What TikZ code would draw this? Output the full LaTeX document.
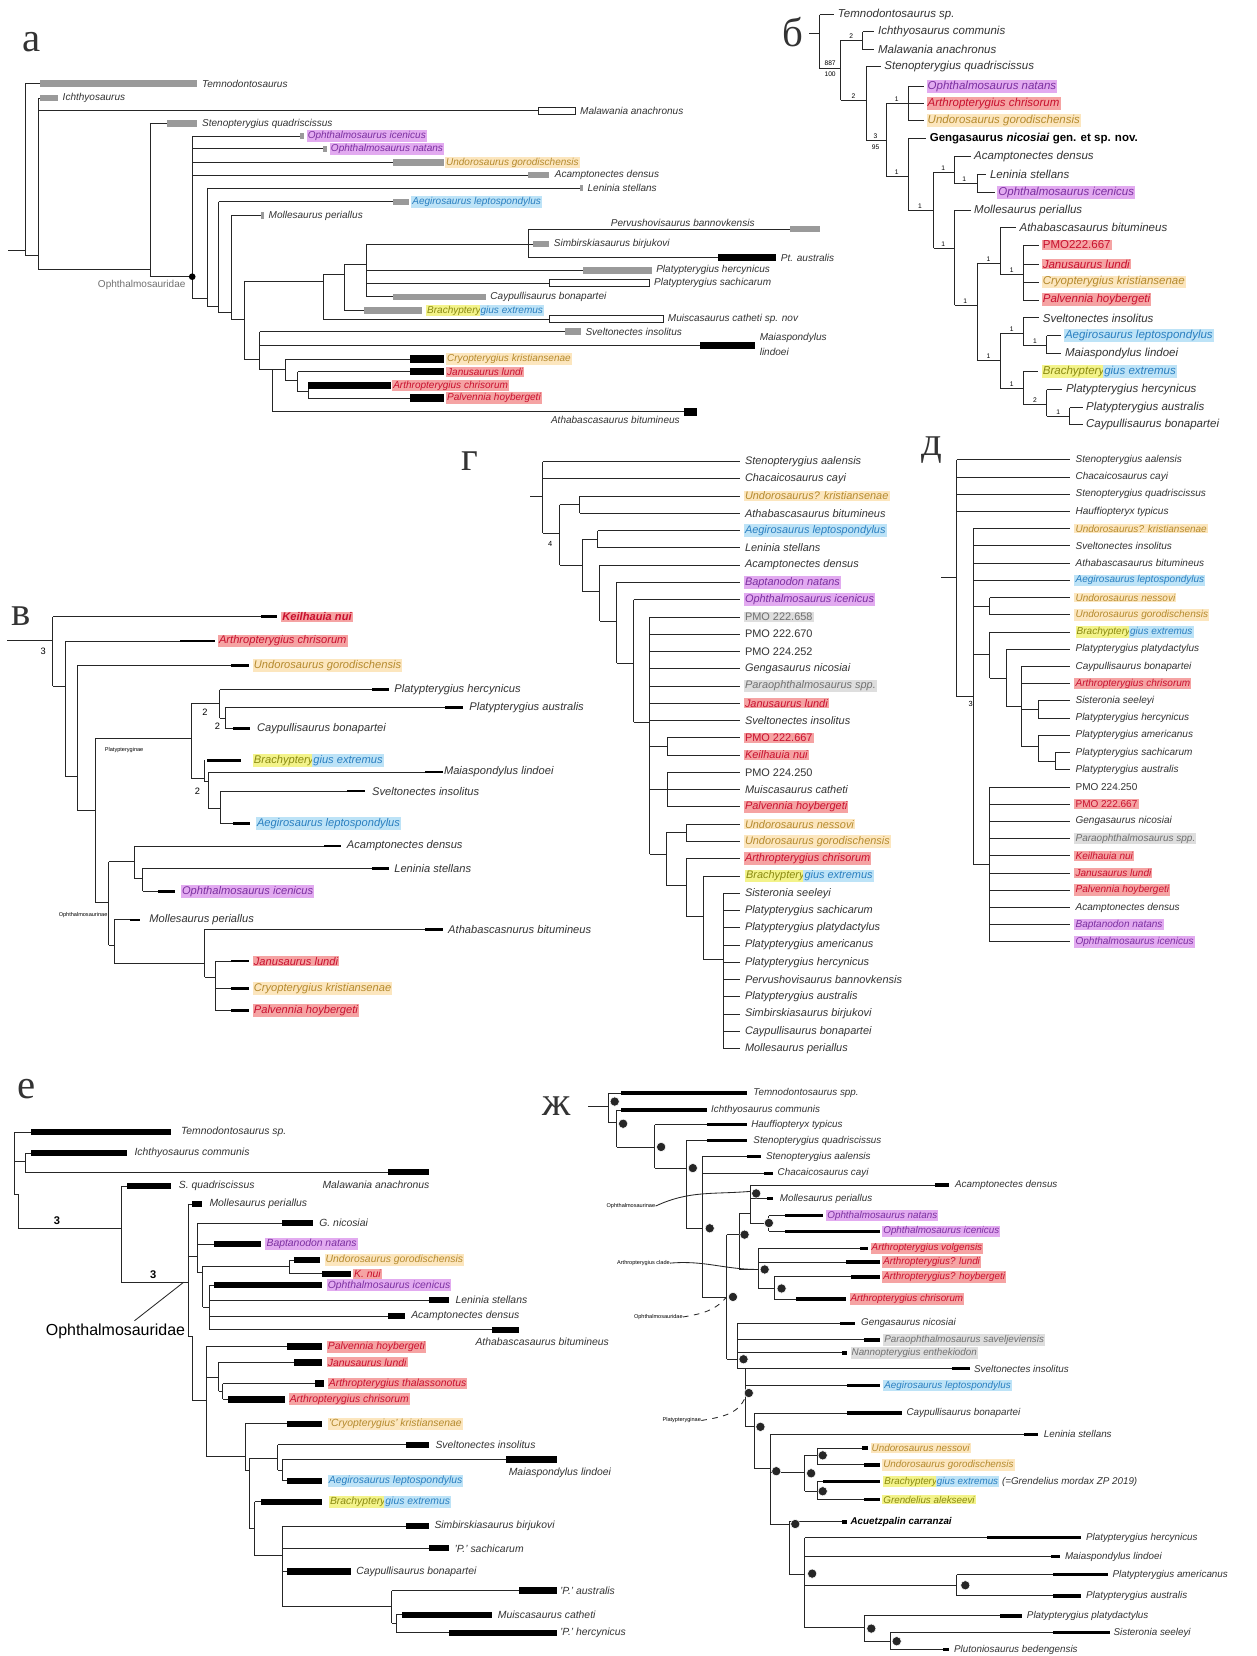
\documentclass[tikz,border=0pt]{standalone}
\usepackage{fontspec}
\setmainfont{Liberation Sans}
\newfontfamily\lettfont{Liberation Serif}
\usepackage{xcolor}

\definecolor{purbg}{HTML}{E2AAF0}
\definecolor{purtx}{HTML}{7B2FA0}
\definecolor{redbg}{HTML}{F5A3A3}
\definecolor{redtx}{HTML}{C8102E}
\definecolor{orabg}{HTML}{FCE6BE}
\definecolor{oratx}{HTML}{B58A2E}
\definecolor{blubg}{HTML}{BDE3F7}
\definecolor{blutx}{HTML}{2A7FC0}
\definecolor{yelbg}{HTML}{F3F38A}
\definecolor{yeltx}{HTML}{8A8A10}
\definecolor{grybg}{HTML}{DEDEDE}
\definecolor{grytx}{HTML}{707070}
\definecolor{barg}{HTML}{9A9A9A}
\definecolor{ink}{HTML}{333333}

% branch helpers: \hb{y}{x0}{x1}, \vb{x}{y0}{y1}
\newcommand{\hb}[3]{\draw[br] (#2,#1) -- (#3,#1);}
\newcommand{\vb}[3]{\draw[br] (#1,#2) -- (#1,#3);}
\newcommand{\gbar}[3]{\fill[barg] (#1,{#3-3}) rectangle (#2,{#3+3});}
\newcommand{\kbar}[4]{\fill[black] (#1,{#3-#4}) rectangle (#2,{#3+#4});}
\newcommand{\wbox}[3]{\draw[br,fill=white] (#1,{#3-3.5}) rectangle (#2,{#3+3.5});}
\newcommand{\brachy}{{\setlength{\fboxsep}{0.6pt}\colorbox{yelbg}{\color{yeltx}Brachyptery}\hspace{-1.2pt}\colorbox{blubg}{\color{blutx}gius extremus}}}

\tikzset{
  br/.style={line width=0.45pt, draw=black!85},
  lab/.style={anchor=west, inner sep=0.6pt},
  plain/.style={},
  up/.style={execute at begin node=\upshape},
  bold/.style={execute at begin node=\bfseries},
  hlP/.style={fill=purbg, text=purtx},
  hlR/.style={fill=redbg, text=redtx},
  hlO/.style={fill=orabg, text=oratx},
  hlB/.style={fill=blubg, text=blutx},
  hlY/.style={fill=yelbg, text=yeltx},
  hlG/.style={fill=grybg, text=grytx},
  hlRup/.style={hlR, up},
  hlGup/.style={hlG, up},
  letter/.style={font=\lettfont\fontsize{22}{22}\selectfont, inner sep=0pt},
  sup/.style={font=\fontsize{3.6}{4}\selectfont\upshape, inner sep=0pt, text=black},
  clade/.style={font=\fontsize{3}{3.5}\selectfont\upshape, inner sep=0pt, text=black},
  knot/.style={fill=black!85, draw=white, line width=0.3pt}
}

\begin{document}
\begin{tikzpicture}[x=0.02cm, y=-0.02cm]
\useasboundingbox[fill=white] (0,0) rectangle (1190,1568);

% ---------------- panel a
\begin{scope}[every node/.append style={font=\fontsize{5.4}{6}\selectfont\itshape, text=ink}]
\node[letter] (a-let) at (30,40) {а};
\hb{237}{8}{24} \vb{24}{79}{242} \hb{79}{24}{38} \hb{242}{24}{36} \gbar{38}{187}{79}
\vb{36}{93}{255} \hb{93}{36}{38} \gbar{38}{55}{93} \hb{105}{36}{510} \wbox{510}{545}{105} \hb{255}{36}{142}
\vb{142}{117}{262} \hb{117}{142}{158} \gbar{158}{187}{117} \hb{262}{142}{182}
\vb{182}{129}{283} \hb{129}{182}{284} \gbar{284}{288}{129} \hb{141}{182}{306} \gbar{306}{310}{141}
\hb{154}{182}{372} \gbar{372}{420}{154} \hb{166}{182}{500} \gbar{500}{520}{166} \hb{283}{182}{196}
\vb{196}{178}{290} \hb{178}{196}{549} \gbar{549}{552}{178} \hb{290}{196}{207}
\vb{207}{191}{296} \hb{191}{207}{372} \gbar{372}{387}{191} \hb{296}{207}{219}
\vb{219}{204}{302} \hb{204}{219}{247} \gbar{247}{250}{204} \hb{302}{219}{231}
\vb{231}{266}{340} \hb{266}{231}{306} \hb{340}{231}{246}
\vb{306}{260}{302} \hb{302}{306}{520} \wbox{520}{628}{302} \hb{260}{306}{326}
\vb{326}{250}{294} \hb{294}{326}{345} \gbar{345}{400}{294} \hb{250}{326}{347}
\vb{347}{231}{281} \hb{231}{347}{505} \gbar{505}{520}{231} \hb{256}{347}{552} \gbar{552}{617}{256}
\hb{268}{347}{520} \wbox{520}{615}{268} \hb{281}{347}{372} \gbar{372}{460}{281}
\vb{500}{217}{244} \hb{217}{500}{748} \gbar{748}{776}{217} \hb{244}{500}{680} \kbar{680}{735}{244}{3.5}
\vb{246}{314}{350} \hb{314}{246}{535} \gbar{535}{550}{314} \hb{327}{246}{663} \kbar{663}{715}{327}{3.5} \hb{350}{246}{270}
\vb{258}{350}{390} \hb{390}{258}{648} \kbar{648}{660}{390}{3.5}
\vb{270}{340}{360} \hb{340}{270}{388} \kbar{388}{420}{340}{3.5} \hb{360}{270}{282}
\vb{282}{352}{371} \hb{352}{282}{388} \kbar{388}{420}{352}{3.5} \hb{371}{282}{292}
\vb{292}{365}{377} \kbar{292}{370}{365}{3.5} \hb{377}{292}{388} \kbar{388}{420}{377}{3.5}
\fill (182,262) circle (1.8pt);
\node[lab, up, text=grytx, anchor=east] (a-ophth) at (177,270) {Ophthalmosauridae};
\node[lab] (a-temno) at (190,79) {Temnodontosaurus};
\node[lab] (a-ichth) at (58,93) {Ichthyosaurus};
\node[lab] (a-malaw) at (548,105) {Malawania anachronus};
\node[lab] (a-steno) at (190,117) {Stenopterygius quadriscissus};
\node[lab,hlP] (a-oicen) at (290,129) {Ophthalmosaurus icenicus};
\node[lab,hlP] (a-onat) at (312,141) {Ophthalmosaurus natans};
\node[lab,hlO] (a-undor) at (421,154) {Undorosaurus gorodischensis};
\node[lab] (a-acamp) at (524,166) {Acamptonectes densus};
\node[lab] (a-lenin) at (555,178) {Leninia stellans};
\node[lab,hlB] (a-aegir) at (389,191) {Aegirosaurus leptospondylus};
\node[lab] (a-molle) at (253,204) {Mollesaurus periallus};
\node[lab] (a-pervu) at (577,211) {Pervushovisaurus bannovkensis};
\node[lab] (a-simbi) at (523,231) {Simbirskiasaurus birjukovi};
\node[lab] (a-ptaus) at (738,244) {Pt. australis};
\node[lab] (a-plher) at (620,256) {Platypterygius hercynicus};
\node[lab] (a-plsac) at (618,268) {Platypterygius sachicarum};
\node[lab] (a-caypu) at (463,281) {Caypullisaurus bonapartei};
\node[lab] (a-brach) at (402,294) {\brachy};
\node[lab] (a-muisc) at (631,302) {Muiscasaurus catheti sp. nov};
\node[lab] (a-svelt) at (553,314) {Sveltonectes insolitus};
\node[lab] (a-maia1) at (718,320) {Maiaspondylus};
\node[lab] (a-maia2) at (718,333) {lindoei};
\node[lab,hlO] (a-cryop) at (422,340) {Cryopterygius kristiansenae};
\node[lab,hlR] (a-janus) at (422,352) {Janusaurus lundi};
\node[lab,hlR] (a-arthr) at (371,365) {Arthropterygius chrisorum};
\node[lab,hlR] (a-palve) at (422,377) {Palvennia hoybergeti};
\node[lab, anchor=east] (a-athab) at (645,398) {Athabascasaurus bitumineus};
\end{scope}

% ---------------- panel b
\begin{scope}[every node/.append style={font=\fontsize{6.2}{7}\selectfont\itshape, text=ink}]
\node[letter] (b-let) at (751,30) {б};
\hb{32}{766}{776} \vb{776}{14}{65} \hb{14}{776}{790} \hb{65}{776}{796}
\vb{796}{38}{95} \hb{38}{796}{817} \hb{95}{796}{820}
\vb{817}{30}{47} \hb{30}{817}{828} \hb{47}{817}{828}
\vb{820}{63}{133} \hb{63}{820}{834} \hb{133}{820}{839}
\vb{839}{98}{167} \hb{98}{839}{860} \hb{167}{839}{860}
\vb{860}{82}{114} \hb{82}{860}{875} \hb{98}{860}{875} \hb{114}{860}{875}
\vb{860}{131}{199} \hb{131}{860}{877} \hb{199}{860}{884}
\vb{884}{163}{235} \hb{163}{884}{904} \hb{235}{884}{904}
\vb{904}{148}{174} \hb{148}{904}{919} \hb{174}{904}{925}
\vb{925}{165}{182} \hb{165}{925}{934} \hb{182}{925}{942}
\vb{904}{199}{289} \hb{199}{904}{919} \hb{289}{904}{925}
\vb{925}{249}{341} \hb{249}{925}{947} \hb{341}{925}{947}
\vb{947}{215}{260} \hb{215}{947}{962} \hb{260}{947}{969}
\vb{969}{232}{284} \foreach \yy in {232,250,267,284} {\hb{\yy}{969}{984}}
\vb{947}{316}{368} \hb{316}{947}{969} \hb{368}{947}{969}
\vb{969}{301}{327} \hb{301}{969}{984} \hb{327}{969}{991}
\vb{991}{318}{335} \hb{318}{991}{1005} \hb{335}{991}{1005}
\vb{969}{352}{383} \hb{352}{969}{983} \hb{383}{969}{991}
\vb{991}{369}{394} \hb{369}{991}{1006} \hb{394}{991}{1013}
\vb{1013}{386}{402} \hb{386}{1013}{1025} \hb{402}{1013}{1025}
\node[sup] (b-s1) at (786,60) {887};
\node[sup] (b-s2) at (786,70) {100};
\foreach \xx/\yy/\tt [count=\k] in {806/34/2, 808/91/2, 829/129/3, 829/139/95, 849/94/1, 849/163/1,
  871/195/1, 893/159/1, 893/231/1, 913/170/1, 914/285/1, 936/245/1, 936/337/1, 958/256/1,
  958/312/1, 958/364/1, 980/323/1, 980/379/2, 1002/390/1}
  {\node[sup] (b-n\k) at (\xx,\yy) {\tt};}
\node[lab] (b-temno) at (792,14) {Temnodontosaurus sp.};
\node[lab] (b-ichth) at (830,30) {Ichthyosaurus communis};
\node[lab] (b-malaw) at (830,47) {Malawania anachronus};
\node[lab] (b-steno) at (836,63) {Stenopterygius quadriscissus};
\node[lab,hlP] (b-onat) at (877,82) {Ophthalmosaurus natans};
\node[lab,hlR] (b-arthr) at (877,98) {Arthropterygius chrisorum};
\node[lab,hlO] (b-undor) at (877,114) {Undorosaurus gorodischensis};
\node[lab,up,bold,text=black] (b-genga) at (879,131) {Gengasaurus \textit{nicosiai} gen. et sp. nov.};
\node[lab] (b-acamp) at (921,148) {Acamptonectes densus};
\node[lab] (b-lenin) at (936,165) {Leninia stellans};
\node[lab,hlP] (b-oicen) at (944,182) {Ophthalmosaurus icenicus};
\node[lab] (b-molle) at (921,199) {Mollesaurus periallus};
\node[lab] (b-athab) at (964,215) {Athabascasaurus bitumineus};
\node[lab,hlRup] (b-pmo) at (986,232) {PMO222.667};
\node[lab,hlR] (b-janus) at (986,250) {Janusaurus lundi};
\node[lab,hlO] (b-cryop) at (986,267) {Cryopterygius kristiansenae};
\node[lab,hlR] (b-palve) at (986,284) {Palvennia hoybergeti};
\node[lab] (b-svelt) at (986,301) {Sveltonectes insolitus};
\node[lab,hlB] (b-aegir) at (1007,318) {Aegirosaurus leptospondylus};
\node[lab] (b-maias) at (1007,335) {Maiaspondylus lindoei};
\node[lab] (b-brach) at (985,352) {\brachy};
\node[lab] (b-plher) at (1008,369) {Platypterygius hercynicus};
\node[lab] (b-plaus) at (1027,386) {Platypterygius australis};
\node[lab] (b-caypu) at (1027,402) {Caypullisaurus bonapartei};
\end{scope}

% ---------------- panel v
\begin{scope}[every node/.append style={font=\fontsize{6}{7}\selectfont\itshape, text=ink}]
\node[letter] (v-let) at (20,583) {в};
\hb{606}{7}{50} \vb{50}{584}{650} \hb{584}{50}{247} \kbar{247}{262}{584}{1.3} \hb{650}{50}{62}
\vb{62}{607}{735} \hb{607}{62}{170} \kbar{170}{204}{607}{1.3} \hb{735}{62}{73}
\vb{73}{630}{767} \hb{630}{73}{219} \kbar{219}{236}{630}{1.3} \hb{767}{73}{90}
\vb{90}{699}{854} \hb{699}{90}{181} \hb{854}{90}{103}
\vb{181}{666}{737} \hb{666}{181}{208} \hb{737}{181}{194}
\vb{208}{653}{680} \hb{653}{208}{352} \kbar{352}{368}{653}{1.3} \hb{680}{208}{213}
\vb{213}{670}{690} \hb{670}{213}{421} \kbar{421}{438}{670}{1.3} \hb{690}{213}{221} \kbar{221}{237}{690}{1.3}
\vb{194}{720}{740} \kbar{196}{228}{720}{1.3} \hb{740}{194}{197}
\vb{197}{731}{765} \hb{731}{197}{402} \kbar{402}{419}{731}{1.3} \hb{765}{197}{209}
\vb{209}{749}{780} \hb{749}{209}{329} \kbar{329}{346}{749}{1.3} \hb{780}{209}{221} \kbar{221}{237}{780}{1.3}
\vb{103}{816}{895} \hb{816}{103}{127} \hb{895}{103}{108}
\vb{127}{801}{832} \hb{801}{127}{307} \kbar{307}{323}{801}{1.3} \hb{832}{127}{135}
\vb{135}{822}{844} \hb{822}{135}{352} \kbar{352}{368}{822}{1.3} \hb{844}{135}{150} \kbar{150}{166}{844}{1.3}
\vb{108}{871}{912} \hb{871}{108}{123} \kbar{123}{133}{871}{1.3} \hb{912}{108}{194}
\vb{194}{880}{925} \hb{880}{194}{402} \kbar{402}{419}{880}{1.3} \hb{925}{194}{204}
\vb{204}{910}{957} \foreach \yy in {910,936,957} {\hb{\yy}{204}{219} \kbar{219}{236}{\yy}{1.3}}
\node[sup, font=\fontsize{5}{5}\selectfont] (v-s1) at (41,617) {3};
\node[sup, font=\fontsize{5}{5}\selectfont] (v-s2) at (194,674) {2};
\node[sup, font=\fontsize{5}{5}\selectfont] (v-s3) at (206,688) {2};
\node[sup, font=\fontsize{5}{5}\selectfont] (v-s4) at (187,749) {2};
\node[clade, anchor=west] (v-platy) at (99,710) {Platypteryginae};
\node[clade, anchor=east] (v-ophth) at (102,866) {Ophthalmosaurinae};
\node[lab,hlR,bold] (v-keilh) at (266,584) {Keilhauia nui};
\node[lab,hlR] (v-arthr) at (206,607) {Arthropterygius chrisorum};
\node[lab,hlO] (v-undor) at (239,630) {Undorosaurus gorodischensis};
\node[lab] (v-plher) at (372,653) {Platypterygius hercynicus};
\node[lab] (v-plaus) at (443,670) {Platypterygius australis};
\node[lab] (v-caypu) at (242,690) {Caypullisaurus bonapartei};
\node[lab] (v-brach) at (238,720) {\brachy};
\node[lab] (v-maias) at (419,731) {Maiaspondylus lindoei};
\node[lab] (v-svelt) at (351,749) {Sveltonectes insolitus};
\node[lab,hlB] (v-aegir) at (242,780) {Aegirosaurus leptospondylus};
\node[lab] (v-acamp) at (327,801) {Acamptonectes densus};
\node[lab] (v-lenin) at (372,822) {Leninia stellans};
\node[lab,hlP] (v-oicen) at (171,844) {Ophthalmosaurus icenicus};
\node[lab] (v-molle) at (140,871) {Mollesaurus periallus};
\node[lab] (v-athab) at (423,880) {Athabascasnurus bitumineus};
\node[lab,hlR] (v-janus) at (239,910) {Janusaurus lundi};
\node[lab,hlO] (v-cryop) at (239,936) {Cryopterygius kristiansenae};
\node[lab,hlR] (v-palve) at (239,957) {Palvennia hoybergeti};
\end{scope}

% ---------------- panel g
\begin{scope}[every node/.append style={font=\fontsize{5.9}{6.5}\selectfont\itshape, text=ink}]
\node[letter] (g-let) at (445,437) {г};
\hb{470}{502}{514} \vb{514}{437}{505} \hb{505}{514}{530}
\vb{530}{477.9}{535} \hb{477.9}{530}{549} \hb{535}{530}{551}
\vb{549}{469.7}{486.05}
\vb{551}{510.6}{560} \hb{510.6}{551}{566} \hb{560}{551}{568}
\vb{566}{502.4}{518.75}
\vb{568}{535.1}{588} \hb{588}{568}{584}
\vb{584}{551.45}{628} \hb{628}{584}{600}
\vb{600}{567.8}{684} \hb{684}{600}{615}
\vb{615}{584.15}{808.6} \hb{706.8}{615}{632} \hb{747.65}{615}{632} \hb{808.6}{615}{631}
\vb{632}{698.6}{714.95} \vb{632}{731.3}{764}
\vb{631}{788.5}{838} \hb{788.5}{631}{650} \hb{838}{631}{650}
\vb{650}{780.35}{796.7}
\vb{650}{813.05}{867.5} \hb{867.5}{650}{666}
\vb{666}{829.4}{908} \hb{908}{666}{685}
\vb{685}{845.75}{992.9}
\node[sup, font=\fontsize{4}{4}\selectfont] (g-s1) at (521,515) {4};
\foreach \i/\sx/\hl/\nm in {1/514/plain/Stenopterygius aalensis, 2/514/plain/Chacaicosaurus cayi,
  3/549/hlO/Undorosaurus? kristiansenae, 4/549/plain/Athabascasaurus bitumineus,
  5/566/hlB/Aegirosaurus leptospondylus, 6/566/plain/Leninia stellans,
  7/568/plain/Acamptonectes densus, 8/584/hlP/Baptanodon natans, 9/600/hlP/Ophthalmosaurus icenicus,
  10/615/hlGup/PMO 222.658, 11/615/up/PMO 222.670, 12/615/up/PMO 224.252,
  13/615/plain/Gengasaurus nicosiai, 14/615/hlG/Paraophthalmosaurus spp.,
  15/615/hlR/Janusaurus lundi, 16/615/plain/Sveltonectes insolitus,
  17/632/hlRup/PMO 222.667, 18/632/hlR/Keilhauia nui, 19/632/up/PMO 224.250,
  20/632/plain/Muiscasaurus catheti, 21/632/hlR/Palvennia hoybergeti,
  22/650/hlO/Undorosaurus nessovi, 23/650/hlO/Undorosaurus gorodischensis,
  24/650/hlR/Arthropterygius chrisorum, 25/666/plain/\brachy,
  26/685/plain/Sisteronia seeleyi, 27/685/plain/Platypterygius sachicarum,
  28/685/plain/Platypterygius platydactylus, 29/685/plain/Platypterygius americanus,
  30/685/plain/Platypterygius hercynicus, 31/685/plain/Pervushovisaurus bannovkensis,
  32/685/plain/Platypterygius australis, 33/685/plain/Simbirskiasaurus birjukovi,
  34/685/plain/Caypullisaurus bonapartei, 35/685/plain/Mollesaurus periallus}
{
  \pgfmathsetmacro{\yy}{437+(\i-1)*16.35}
  \draw[br] (\sx,\yy) -- (701,\yy);
  \node[lab,\hl] (g-\i) at (704,\yy) {\nm};
}
\end{scope}

% ---------------- panel d
\begin{scope}[every node/.append style={font=\fontsize{5.4}{6}\selectfont\itshape, text=ink}]
\node[letter] (d-let) at (882,426) {д};
\hb{547}{891}{906} \vb{906}{435.4}{659.5} \hb{659.5}{906}{921.5}
\vb{921.5}{500.6}{818.9} \hb{574}{921.5}{937} \hb{620}{921.5}{937} \hb{818.9}{921.5}{937}
\vb{937}{565.8}{582.1}
\vb{937}{598.4}{642.1} \hb{642.1}{937}{953}
\vb{953}{614.7}{669} \hb{669}{953}{967}
\vb{967}{631}{706.9} \hb{671.75}{967}{983} \hb{706.9}{967}{983}
\vb{983}{663.6}{679.9} \vb{983}{696.2}{720.65} \hb{720.65}{983}{999}
\vb{999}{712.5}{728.8}
\vb{937}{745.1}{891.8}
\node[sup, font=\fontsize{4}{4}\selectfont] (d-s1) at (919,667) {3};
\foreach \i/\sx/\hl/\nm in {1/906/plain/Stenopterygius aalensis, 2/906/plain/Chacaicosaurus cayi,
  3/906/plain/Stenopterygius quadriscissus, 4/906/plain/Hauffiopteryx typicus,
  5/921.5/hlO/Undorosaurus? kristiansenae, 6/921.5/plain/Sveltonectes insolitus,
  7/921.5/plain/Athabascasaurus bitumineus, 8/921.5/hlB/Aegirosaurus leptospondylus,
  9/937/hlO/Undorosaurus nessovi, 10/937/hlO/Undorosaurus gorodischensis,
  11/937/plain/\brachy, 12/953/plain/Platypterygius platydactylus,
  13/967/plain/Caypullisaurus bonapartei, 14/967/hlR/Arthropterygius chrisorum,
  15/983/plain/Sisteronia seeleyi, 16/983/plain/Platypterygius hercynicus,
  17/983/plain/Platypterygius americanus, 18/999/plain/Platypterygius sachicarum,
  19/999/plain/Platypterygius australis, 20/937/up/PMO 224.250, 21/937/hlRup/PMO 222.667,
  22/937/plain/Gengasaurus nicosiai, 23/937/hlG/Paraophthalmosaurus spp.,
  24/937/hlR/Keilhauia nui, 25/937/hlR/Janusaurus lundi, 26/937/hlR/Palvennia hoybergeti,
  27/937/plain/Acamptonectes densus, 28/937/hlP/Baptanodon natans,
  29/937/hlP/Ophthalmosaurus icenicus}
{
  \pgfmathsetmacro{\yy}{435.4+(\i-1)*16.3}
  \draw[br] (\sx,\yy) -- (1013,\yy);
  \node[lab,\hl] (d-\i) at (1017,\yy) {\nm};
}
\end{scope}

% ---------------- panel e
\begin{scope}[every node/.append style={font=\fontsize{5.6}{6}\selectfont\itshape, text=ink}]
\node[letter] (e-let) at (25,1031) {е};
\vb{13.5}{1072}{1131} \hb{1072}{13.5}{29} \kbar{29}{162}{1072}{3} \hb{1100}{13.5}{24} \hb{1131}{13.5}{17}
\vb{24}{1092}{1110} \hb{1092}{24}{29} \kbar{29}{120}{1092}{3} \hb{1110}{24}{367} \kbar{367}{406}{1110}{3}
\vb{17}{1131}{1163} \hb{1163}{17}{115}
\vb{115}{1123}{1214} \hb{1123}{115}{120} \kbar{120}{162}{1123}{3} \hb{1214}{115}{178}
\vb{178}{1140}{1265} \hb{1140}{178}{182} \kbar{182}{191}{1140}{3} \hb{1190}{178}{187} \hb{1265}{178}{182}
\vb{187}{1158}{1205} \hb{1158}{187}{267} \kbar{267}{296}{1158}{3} \hb{1178}{187}{203} \kbar{203}{247}{1178}{3} \hb{1205}{187}{192}
\vb{192}{1199}{1238} \hb{1199}{192}{274} \hb{1238}{192}{198}
\vb{274}{1193}{1206} \hb{1193}{274}{278} \kbar{278}{303}{1193}{3} \hb{1206}{274}{305} \kbar{305}{332}{1206}{3}
\vb{198}{1217}{1259} \hb{1217}{198}{203} \kbar{203}{305}{1217}{3} \hb{1231}{198}{406} \kbar{406}{425}{1231}{3}
\hb{1246}{198}{367} \kbar{367}{383}{1246}{3} \hb{1259}{198}{466} \kbar{466}{491}{1259}{3}
\vb{182}{1265}{1326} \hb{1326}{182}{195}
\vb{195}{1275}{1379} \hb{1275}{195}{272} \kbar{272}{305}{1275}{3} \hb{1304}{195}{207} \hb{1379}{195}{232}
\vb{207}{1290}{1317} \hb{1290}{207}{278} \kbar{278}{305}{1290}{3} \hb{1317}{207}{211}
\vb{211}{1310}{1325} \hb{1310}{211}{298} \kbar{298}{307}{1310}{3} \kbar{216}{270}{1325}{3} \hb{1325}{211}{216}
\vb{232}{1348}{1392} \hb{1348}{232}{272} \kbar{272}{305}{1348}{3} \hb{1392}{232}{236}
\vb{236}{1381}{1447} \hb{1381}{236}{263} \hb{1447}{236}{241}
\vb{263}{1368}{1392} \hb{1368}{263}{384} \kbar{384}{406}{1368}{3} \hb{1392}{263}{267}
\vb{267}{1382}{1402} \hb{1382}{267}{479} \kbar{479}{527}{1382}{3} \hb{1402}{267}{272} \kbar{272}{305}{1402}{3}
\vb{241}{1422}{1473} \hb{1422}{241}{247} \kbar{247}{305}{1422}{3} \hb{1473}{241}{267}
\vb{267}{1445}{1521} \hb{1445}{267}{384} \kbar{384}{406}{1445}{3} \hb{1466}{267}{406} \kbar{406}{425}{1466}{3}
\hb{1488}{267}{272} \kbar{272}{332}{1488}{3} \hb{1521}{267}{371}
\vb{371}{1506}{1537} \hb{1506}{371}{491} \kbar{491}{527}{1506}{3} \hb{1537}{371}{375}
\vb{375}{1529}{1546} \hb{1529}{375}{381} \kbar{381}{466}{1529}{3} \hb{1546}{375}{425} \kbar{425}{527}{1546}{3}
\node[sup, font=\bfseries\fontsize{6}{6}\selectfont] (e-s1) at (54,1156) {3};
\node[sup, font=\bfseries\fontsize{6}{6}\selectfont] (e-s2) at (145,1207) {3};
\node[lab, up, text=black, font=\fontsize{8.6}{9}\selectfont] (e-ophth) at (42,1261) {Ophthalmosauridae};
\draw[br] (e-ophth.north) ++(18,-2) -- (174,1214);
\node[lab] (e-temno) at (170,1072) {Temnodontosaurus sp.};
\node[lab] (e-ichth) at (126,1092) {Ichthyosaurus communis};
\node[lab, anchor=east] (e-malaw) at (408,1122) {Malawania anachronus};
\node[lab] (e-squad) at (168,1123) {S. quadriscissus};
\node[lab] (e-molle) at (197,1140) {Mollesaurus periallus};
\node[lab] (e-genga) at (301,1158) {G. nicosiai};
\node[lab,hlP] (e-bapta) at (251,1178) {Baptanodon natans};
\node[lab,hlO] (e-undor) at (307,1193) {Undorosaurus gorodischensis};
\node[lab,hlR] (e-keilh) at (334,1206) {K. nui};
\node[lab,hlP] (e-oicen) at (309,1217) {Ophthalmosaurus icenicus};
\node[lab] (e-lenin) at (430,1231) {Leninia stellans};
\node[lab] (e-acamp) at (388,1246) {Acamptonectes densus};
\node[lab, anchor=east] (e-athab) at (578,1270) {Athabascasaurus bitumineus};
\node[lab,hlR] (e-palve) at (309,1275) {Palvennia hoybergeti};
\node[lab,hlR] (e-janus) at (309,1290) {Janusaurus lundi};
\node[lab,hlR] (e-athal) at (310,1310) {Arthropterygius thalassonotus};
\node[lab,hlR] (e-achri) at (273,1325) {Arthropterygius chrisorum};
\node[lab,hlO] (e-cryop) at (310,1348) {'Cryopterygius' kristiansenae};
\node[lab] (e-svelt) at (411,1368) {Sveltonectes insolitus};
\node[lab, anchor=east] (e-maias) at (580,1395) {Maiaspondylus lindoei};
\node[lab,hlB] (e-aegir) at (310,1402) {Aegirosaurus leptospondylus};
\node[lab] (e-brach) at (310,1422) {\brachy};
\node[lab] (e-simbi) at (410,1445) {Simbirskiasaurus birjukovi};
\node[lab] (e-psach) at (429,1466) {'P.' sachicarum};
\node[lab] (e-caypu) at (336,1488) {Caypullisaurus bonapartei};
\node[lab] (e-paust) at (529,1506) {'P.' australis};
\node[lab] (e-muisc) at (470,1529) {Muiscasaurus catheti};
\node[lab] (e-pherc) at (529,1546) {'P.' hercynicus};
\end{scope}

% ---------------- panel zh
\begin{scope}[every node/.append style={font=\fontsize{5.3}{6}\selectfont\itshape, text=ink}]
\node[letter] (z-let) at (527,1047) {ж};
\hb{1048}{557}{576} \vb{576}{1035}{1063} \hb{1035}{576}{588} \kbar{588}{707}{1035}{1.6} \hb{1063}{576}{584}
\vb{584}{1051}{1086} \hb{1051}{584}{588} \kbar{588}{669}{1051}{1.6} \hb{1086}{584}{620}
\vb{620}{1065}{1106} \hb{1065}{620}{669} \kbar{669}{707}{1065}{1.6} \hb{1106}{620}{650}
\vb{650}{1080}{1163} \hb{1080}{650}{669} \kbar{669}{707}{1080}{1.6} \hb{1163}{650}{665}
\vb{665}{1095}{1228} \hb{1095}{665}{707} \kbar{707}{721}{1095}{1.6} \hb{1111}{665}{723} \kbar{723}{732}{1111}{1.6} \hb{1228}{665}{688}
\vb{688}{1169}{1287} \hb{1169}{688}{700} \hb{1287}{688}{698}
\vb{700}{1149}{1202} \hb{1149}{700}{711} \hb{1202}{700}{718}
\vb{711}{1122}{1158.5} \hb{1122}{711}{885} \kbar{885}{899}{1122}{1.6} \hb{1135}{711}{726} \kbar{726}{732}{1135}{1.6} \hb{1158.5}{711}{728}
\vb{728}{1151}{1166} \hb{1151}{728}{743} \kbar{743}{779}{1151}{1.6} \hb{1166}{728}{743} \kbar{743}{833}{1166}{1.6}
\vb{718}{1182}{1220} \hb{1182}{718}{814} \kbar{814}{822}{1182}{1.6} \hb{1195}{718}{801} \kbar{801}{833}{1195}{1.6} \hb{1220}{718}{733}
\vb{733}{1209}{1230} \hb{1209}{733}{806} \kbar{806}{833}{1209}{1.6} \hb{1230}{733}{754} \kbar{754}{801}{1230}{1.6}
\vb{698}{1253}{1296} \hb{1253}{698}{795} \kbar{795}{810}{1253}{1.6} \hb{1268.6}{698}{818} \kbar{818}{833}{1268.6}{1.6}
\hb{1281}{698}{797} \kbar{797}{802}{1281}{1.6} \hb{1296}{698}{706}
\vb{706}{1296}{1351} \hb{1296}{706}{901} \kbar{901}{918}{1296}{1.6} \hb{1312}{706}{802} \kbar{802}{833}{1312}{1.6} \hb{1351}{706}{714}
\vb{714}{1338}{1390} \hb{1338}{714}{802} \kbar{802}{854}{1338}{1.6} \hb{1390}{714}{729}
\vb{729}{1358}{1443} \hb{1358}{729}{970} \kbar{970}{983}{1358}{1.6} \hb{1394}{729}{762} \hb{1443}{729}{747}
\vb{762}{1378}{1412} \hb{1378}{762}{774} \hb{1412}{762}{774}
\vb{774}{1371}{1387} \hb{1371}{774}{816} \kbar{816}{822}{1371}{1.6} \hb{1387}{774}{818} \kbar{818}{833}{1387}{1.6}
\vb{774}{1403}{1420} \hb{1403}{774}{779} \kbar{779}{833}{1403}{1.6} \hb{1420}{774}{818} \kbar{818}{833}{1420}{1.6}
\vb{747}{1441}{1491} \hb{1441}{747}{797} \kbar{797}{802}{1441}{1.6} \hb{1491}{747}{762}
\vb{762}{1456}{1541} \hb{1456}{762}{935} \kbar{935}{1024}{1456}{1.6} \hb{1474}{762}{995} \kbar{995}{1004}{1474}{1.6}
\hb{1501}{762}{906} \hb{1541}{762}{818}
\vb{906}{1491}{1511} \hb{1491}{906}{997} \kbar{997}{1049}{1491}{1.6} \hb{1511}{906}{997} \kbar{997}{1024}{1511}{1.6}
\vb{818}{1530}{1554} \hb{1530}{818}{947} \kbar{947}{968}{1530}{1.6} \hb{1554}{818}{843}
\vb{843}{1546}{1562} \hb{1546}{843}{997} \kbar{997}{1051}{1546}{1.6} \hb{1562}{843}{893} \kbar{893}{899}{1562}{1.6}
\foreach \xx/\yy in {582/1043, 590/1064, 626/1086, 656/1106, 672/1163, 694/1228, 705/1169, 716/1130,
  728/1158, 724/1202, 740/1220, 704/1287, 709/1319, 720/1351, 735/1393, 768/1395, 779/1378, 779/1412,
  753/1443, 769/1490, 914/1501, 825/1542, 849/1554}
  {\filldraw[knot] (\xx,\yy) circle (2.5pt);}
\node[clade, anchor=west] (z-ophin) at (574,1142) {Ophthalmosaurinae};
\draw[br] (z-ophin.east) to[out=25, in=185] (711,1128);
\node[clade, anchor=west] (z-arthc) at (584,1196) {Arthropterygius clade};
\draw[br] (z-arthc.east) to[out=5, in=180] (718,1202);
\node[clade, anchor=west] (z-ophid) at (600,1247) {Ophthalmosauridae};
\draw[br, dashed] (z-ophid.east) to[out=10, in=230] (688,1228);
\node[clade, anchor=west] (z-platy) at (627,1345) {Platypteryginae};
\draw[br, dashed] (z-platy.east) to[out=10, in=250] (706,1322);
\node[lab] (z-temno) at (712,1035) {Temnodontosaurus spp.};
\node[lab] (z-ichth) at (672,1051) {Ichthyosaurus communis};
\node[lab] (z-hauff) at (710,1065) {Hauffiopteryx typicus};
\node[lab] (z-squad) at (712,1080) {Stenopterygius quadriscissus};
\node[lab] (z-saale) at (724,1095) {Stenopterygius aalensis};
\node[lab] (z-chaca) at (735,1111) {Chacaicosaurus cayi};
\node[lab] (z-acamp) at (903,1122) {Acamptonectes densus};
\node[lab] (z-molle) at (737,1135) {Mollesaurus periallus};
\node[lab,hlP] (z-onat) at (782,1151) {Ophthalmosaurus natans};
\node[lab,hlP] (z-oicen) at (835,1166) {Ophthalmosaurus icenicus};
\node[lab,hlR] (z-avolg) at (824,1182) {Arthropterygius volgensis};
\node[lab,hlR] (z-alund) at (835,1195) {Arthropterygius? lundi};
\node[lab,hlR] (z-ahoyb) at (835,1209) {Arthropterygius? hoybergeti};
\node[lab,hlR] (z-achri) at (804,1230) {Arthropterygius chrisorum};
\node[lab] (z-genga) at (814,1253) {Gengasaurus nicosiai};
\node[lab,hlG] (z-parao) at (836,1268.6) {Paraophthalmosaurus saveljeviensis};
\node[lab,hlG] (z-nanno) at (805,1281) {Nannopterygius enthekiodon};
\node[lab] (z-svelt) at (921,1296) {Sveltonectes insolitus};
\node[lab,hlB] (z-aegir) at (836,1312) {Aegirosaurus leptospondylus};
\node[lab] (z-caypu) at (857,1338) {Caypullisaurus bonapartei};
\node[lab] (z-lenin) at (987,1358) {Leninia stellans};
\node[lab,hlO] (z-uness) at (824,1371) {Undorosaurus nessovi};
\node[lab,hlO] (z-ugoro) at (835,1387) {Undorosaurus gorodischensis};
\node[lab] (z-brach) at (835,1403) {\brachy\ (=\textit{Grendelius mordax} ZP 2019)};
\node[lab,hlY] (z-grend) at (835,1420) {Grendelius alekseevi};
\node[lab,bold,text=black] (z-acuet) at (804,1441) {Acuetzpalin carranzai};
\node[lab] (z-plher) at (1027,1456) {Platypterygius hercynicus};
\node[lab] (z-maias) at (1007,1474) {Maiaspondylus lindoei};
\node[lab] (z-plame) at (1052,1491) {Platypterygius americanus};
\node[lab] (z-plaus) at (1027,1511) {Platypterygius australis};
\node[lab] (z-plpla) at (971,1530) {Platypterygius platydactylus};
\node[lab] (z-siste) at (1053,1546) {Sisteronia seeleyi};
\node[lab] (z-pluto) at (902,1562) {Plutoniosaurus bedengensis};
\end{scope}
\end{tikzpicture}
\end{document}
